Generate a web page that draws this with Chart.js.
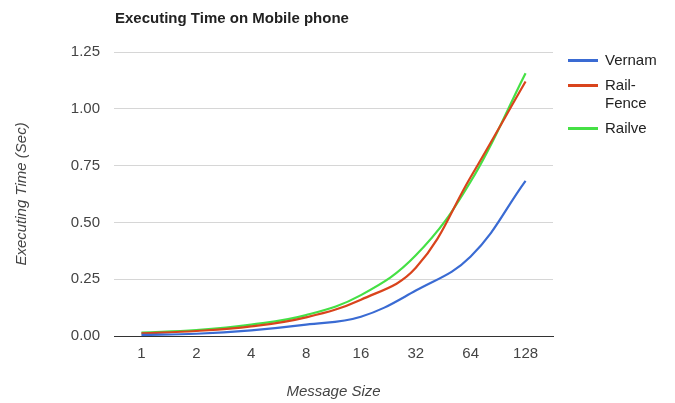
<!DOCTYPE html>
<html>
<head>
<meta charset="utf-8">
<script src="https://cdn.jsdelivr.net/npm/chart.js@4/dist/chart.umd.min.js"></script>
<style>
  html, body { margin: 0; padding: 0; background: #fff; }
  #wrap { position: relative; width: 675px; height: 403px; font-family: "Liberation Sans", Arial, sans-serif; }
  #title { position: absolute; left: 115px; top: 9px; font-size: 15px; line-height: 18px; font-weight: bold; color: #222; white-space: nowrap; }
  #legend { position: absolute; left: 568px; top: 51px; font-size: 15px; color: #222; }
  .item { position: relative; padding-left: 37px; line-height: 18px; margin-bottom: 7px; }
  .swatch { position: absolute; left: 0; top: 8px; width: 30px; height: 3px; }
</style>
</head>
<body>
<div id="wrap">
  <canvas id="c" width="675" height="403"></canvas>
  <div id="title">Executing Time on Mobile phone</div>
  <div id="legend"></div>
</div>
<script>
// Message sizes on the category axis
const messageSizes = ['1', '2', '4', '8', '16', '32', '64', '128'];

// Executing time (seconds) per cipher
const vernam    = [0.005, 0.010, 0.025, 0.050, 0.085, 0.200, 0.350, 0.683];
const railFence = [0.012, 0.022, 0.042, 0.082, 0.160, 0.300, 0.700, 1.120];
const railve    = [0.015, 0.026, 0.050, 0.092, 0.180, 0.355, 0.680, 1.157];

// Value axis ticks
const yTicks = [0, 0.25, 0.5, 0.75, 1.0, 1.25];

const seriesNames  = ['Vernam', 'Rail-\nFence', 'Railve'];
const seriesColors = ['#3a6bd3', '#d9441c', '#45e045'];
const seriesData   = [vernam, railFence, railve];

const tickFont = { family: "'Liberation Sans', Arial, sans-serif", size: 15 };
const titleFont = { family: "'Liberation Sans', Arial, sans-serif", size: 15, style: 'italic' };

const chart = new Chart(document.getElementById('c'), {
  type: 'line',
  data: {
    labels: messageSizes,
    datasets: seriesData.map((d, i) => ({
      label: seriesNames[i],
      data: d,
      borderColor: seriesColors[i],
      backgroundColor: seriesColors[i],
      borderWidth: 2.2,
      pointRadius: 0,
      tension: 0.4,
      fill: false
    }))
  },
  options: {
    responsive: false,
    animation: false,
    layout: { padding: { top: 52, right: 122, left: 0, bottom: 0 } },
    plugins: { legend: { display: false }, tooltip: { enabled: false } },
    scales: {
      x: {
        offset: true,
        grid: { display: false, drawTicks: false },
        border: { display: true, color: '#333', width: 1 },
        ticks: { color: '#444', font: tickFont, padding: 9, maxRotation: 0 },
        title: { display: true, text: 'Message Size', color: '#444', font: titleFont, padding: { top: 0, bottom: 2 } },
        afterFit: s => { s.height = 67; }
      },
      y: {
        min: 0, max: 1.25,
        afterBuildTicks: s => { s.ticks = yTicks.map(v => ({ value: v })); },
        grid: { color: '#d6d6d6', drawTicks: false },
        border: { display: false },
        ticks: { color: '#444', font: tickFont, padding: 14, callback: v => v.toFixed(2) },
        title: { display: true, text: 'Executing Time (Sec)', color: '#444', font: titleFont, padding: { top: 13, bottom: 0 } },
        afterFit: s => { s.width = 114; }
      }
    }
  }
});

// Legend built from the datasets
const legend = document.getElementById('legend');
chart.data.datasets.forEach(ds => {
  const item = document.createElement('div');
  item.className = 'item';
  const sw = document.createElement('span');
  sw.className = 'swatch';
  sw.style.background = ds.borderColor;
  item.appendChild(sw);
  ds.label.split('\n').forEach((t, k) => {
    if (k) item.appendChild(document.createElement('br'));
    item.appendChild(document.createTextNode(t));
  });
  legend.appendChild(item);
});
</script>
</body>
</html>
